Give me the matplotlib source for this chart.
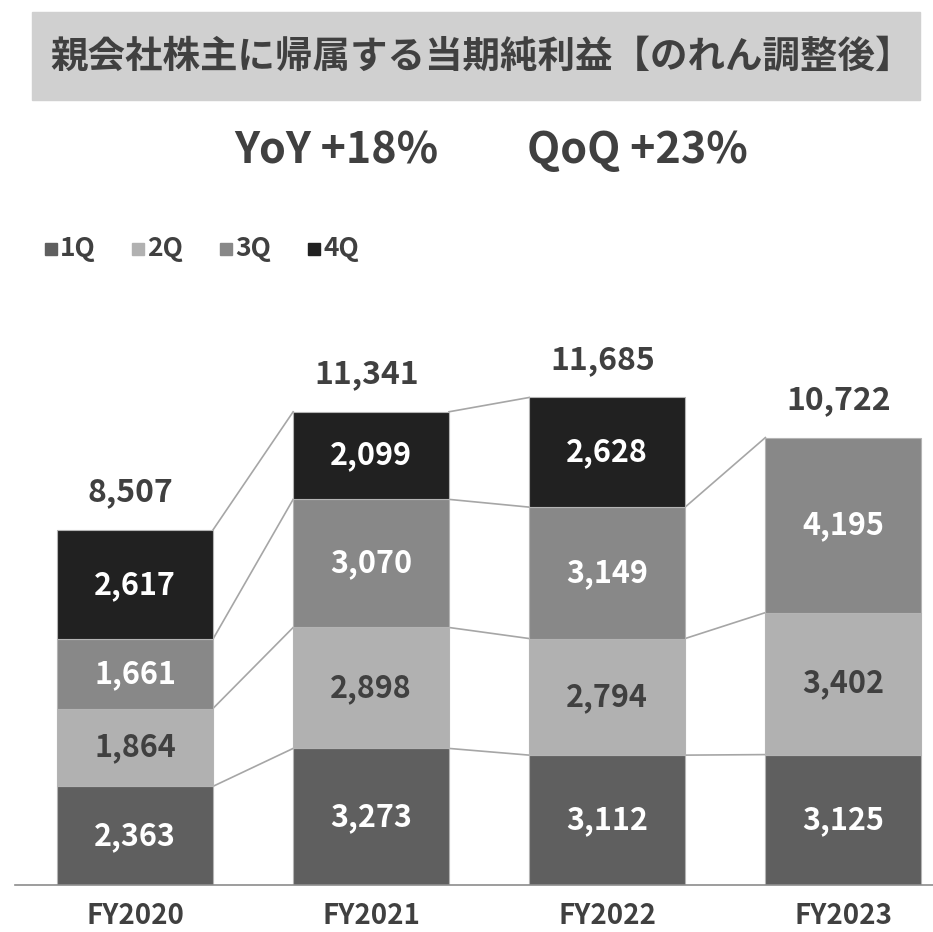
import numpy as np
import matplotlib
matplotlib.use("Agg")
import matplotlib.pyplot as plt
from matplotlib.patches import Rectangle

plt.rcParams['font.family'] = ['Noto Sans CJK JP', 'DejaVu Sans']
plt.rcParams['font.weight'] = 'bold'

# data
years = ['FY2020', 'FY2021', 'FY2022', 'FY2023']
q1 = [2363, 3273, 3112, 3125]
q2 = [1864, 2898, 2794, 3402]
q3 = [1661, 3070, 3149, 4195]
q4 = [2617, 2099, 2628, None]
totals = [8507, 11341, 11685, 10722]
quarters = ['1Q', '2Q', '3Q', '4Q']
colors = ['#5f5f5f', '#b1b1b1', '#888888', '#212121']
label_colors = ['white', '#404040', 'white', 'white']
text_col = '#404040'

W, H = 933, 932
fig = plt.figure(figsize=(W / 100, H / 100), dpi=100)

# title box
fig.patches.append(Rectangle((32 / W, 1 - 100 / H), 888 / W, 88 / H,
                             transform=fig.transFigure, color='#d0d0d0', zorder=0))
fig.text(50 / W, 1 - 56 / H, '親会社株主に帰属する当期純利益【のれん調整後】',
         fontsize=27, color=text_col, ha='left', va='center', fontweight='bold')
fig.text(336 / W, 1 - 150 / H, 'YoY +18%', fontsize=31, color=text_col,
         ha='center', va='center', fontweight='bold')
fig.text(637 / W, 1 - 150 / H, 'QoQ +23%', fontsize=31, color=text_col,
         ha='center', va='center', fontweight='bold')

# legend
lx = [45, 132, 220, 308]
for i, q in enumerate(quarters):
    fig.patches.append(Rectangle((lx[i] / W, 1 - 255 / H), 12 / W, 12 / H,
                                 transform=fig.transFigure, color=colors[i]))
    fig.text((lx[i] + 15) / W, 1 - 249 / H, q, fontsize=19, color=text_col,
             ha='left', va='center', fontweight='bold')

# axes
ax = fig.add_axes([15 / W, 47 / H, 918 / W, 585 / H])
x = np.arange(len(years))
width = 0.66
series = [q1, q2, q3, q4]
bottoms = np.zeros(len(years))
tops = []
for s, vals in enumerate(series):
    v = np.array([0 if a is None else a for a in vals], dtype=float)
    mask = np.array([a is not None for a in vals])
    ax.bar(x[mask], v[mask], width, bottom=bottoms[mask], color=colors[s],
           edgecolor='#b4b4b4', linewidth=0.8, zorder=2)
    for i in np.where(mask)[0]:
        ax.text(x[i], bottoms[i] + v[i] / 2, f'{int(v[i]):,}', ha='center',
                va='center', fontsize=22, color=label_colors[s], fontweight='bold', zorder=3)
    bottoms = bottoms + v
    tops.append(np.where(mask, bottoms, np.nan))

# series lines
for s in range(4):
    for i in range(len(years) - 1):
        if not np.isnan(tops[s][i]) and not np.isnan(tops[s][i + 1]):
            ax.plot([x[i] + width / 2, x[i + 1] - width / 2],
                    [tops[s][i], tops[s][i + 1]], color='#a6a6a6', lw=1.2, zorder=1)

for i, t in enumerate(totals):
    ax.text(x[i] - 0.02, t + 900, f'{t:,}', ha='center', va='center', fontsize=23,
            color=text_col, fontweight='bold')

ax.set_xlim(-0.508, 3.38)
ax.set_ylim(0, 585 / 0.04173)
ax.set_xticks(x)
ax.set_xticklabels(years, fontsize=20, color=text_col, fontweight='bold')
ax.tick_params(axis='x', length=0, pad=12)
ax.set_yticks([])
for sp in ['top', 'right', 'left']:
    ax.spines[sp].set_visible(False)
ax.spines['bottom'].set_color('#8c8c8c')
ax.spines['bottom'].set_linewidth(1.2)
ax.patch.set_alpha(0)

fig.savefig('out.png', dpi=100)
